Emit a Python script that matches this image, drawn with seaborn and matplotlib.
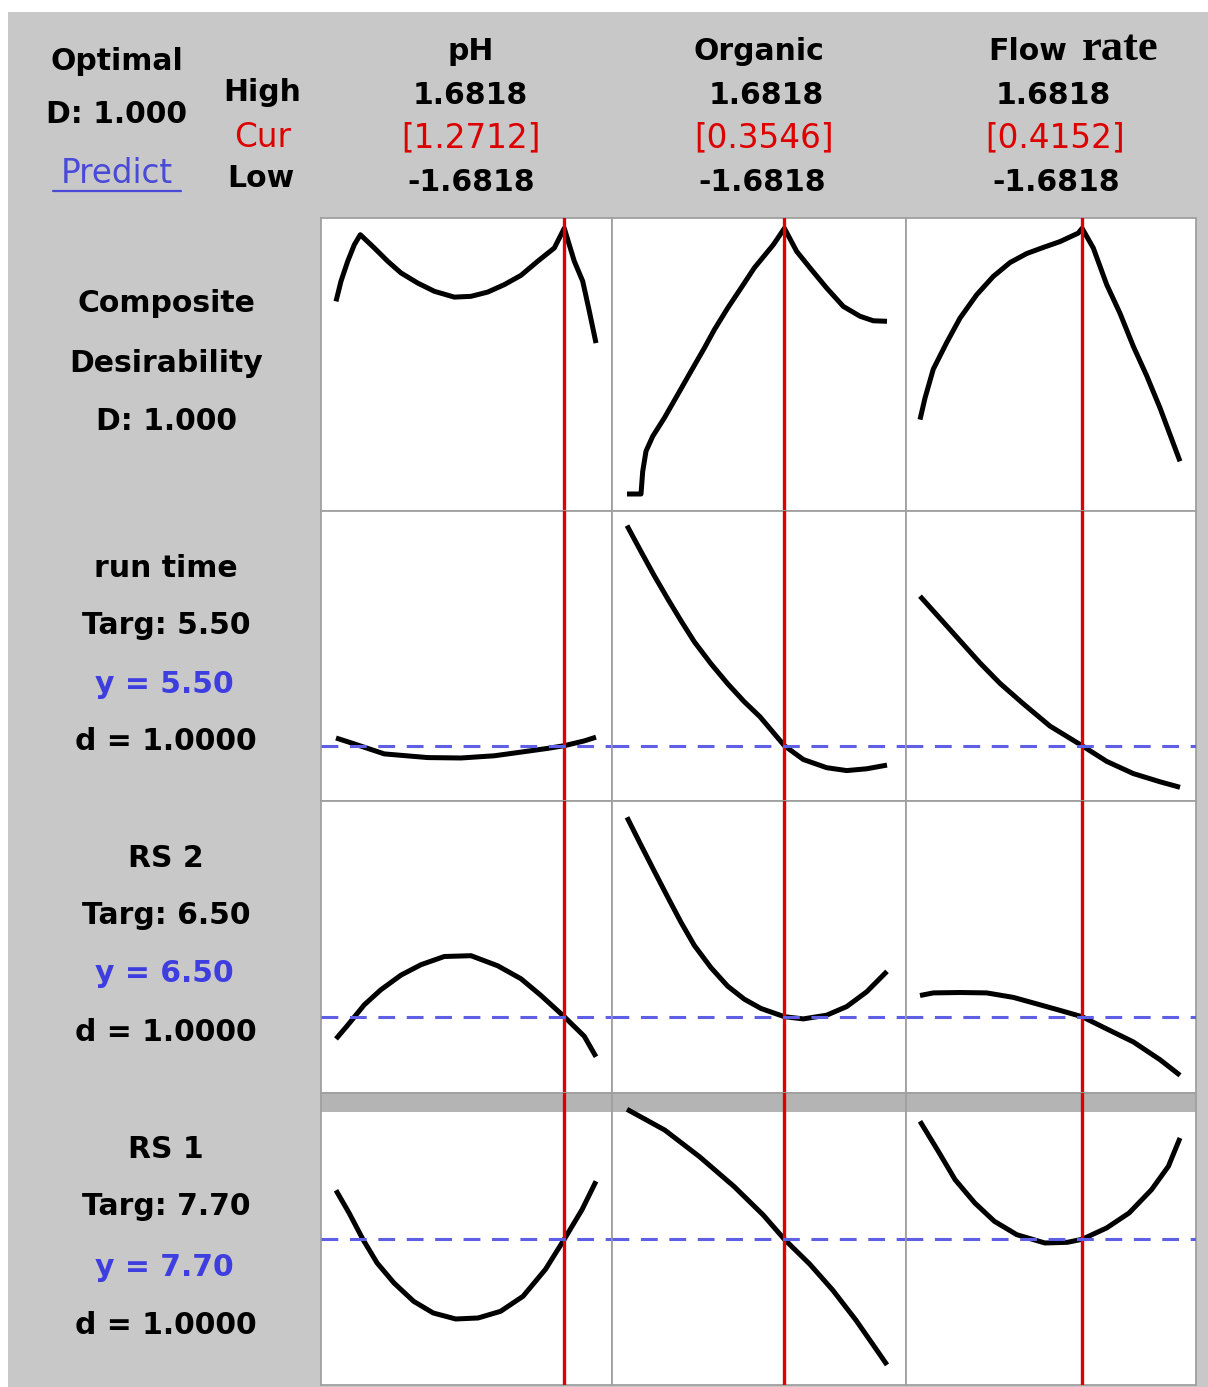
import numpy as np
import pandas as pd
import matplotlib
matplotlib.use("Agg")
import matplotlib.pyplot as plt
import seaborn as sns
from matplotlib.patches import Rectangle
from matplotlib.lines import Line2D

# ---------------- data ----------------
factors = ["pH", "Organic", "Flow rate"]
high = [1.6818, 1.6818, 1.6818]
low = [-1.6818, -1.6818, -1.6818]
cur = [1.2712, 0.3546, 0.4152]

resp_names = ["run time", "RS 2", "RS 1"]
targets = [5.50, 6.50, 7.70]
y_pred = [5.50, 6.50, 7.70]
d_vals = [1.0000, 1.0000, 1.0000]
D_comp = 1.000

# Composite desirability curves
d_ph_x = [-1.6818, -1.6171, -1.5304, -1.4451, -1.3674, -1.1863, -1.0130, -0.8409, -0.6249, -0.4101,
          -0.1514, 0.0647, 0.2807, 0.4955, 0.7115, 0.9275, 1.1424, 1.2712, 1.4011, 1.5098, 1.5952, 1.6818]
d_ph_y = [0.725, 0.801, 0.876, 0.938, 0.976, 0.926, 0.876, 0.832, 0.794, 0.763,
          0.741, 0.744, 0.760, 0.788, 0.823, 0.876, 0.926, 1.000, 0.876, 0.801, 0.688, 0.568]
d_org_x = [-1.6818, -1.5007, -1.4787, -1.4360, -1.3493, -1.1992, -1.0259, -0.8538, -0.6818, -0.5524, -0.3790,
           -0.2070, -0.0349, 0.2109, 0.3546, 0.5136, 0.6857, 0.9017, 1.1165, 1.3326, 1.5046, 1.6818]
d_org_y = [0.000, 0.000, 0.085, 0.161, 0.217, 0.286, 0.374, 0.462, 0.549, 0.618, 0.700,
           0.775, 0.851, 0.938, 1.000, 0.913, 0.851, 0.775, 0.706, 0.669, 0.652, 0.650]
d_flow_x = [-1.6818, -1.6171, -1.5097, -1.3364, -1.1643, -0.9483, -0.7335, -0.5175, -0.3014, -0.0867,
            0.1294, 0.3661, 0.4152, 0.5601, 0.7335, 0.9055, 1.0776, 1.2509, 1.4230, 1.6818]
d_flow_y = [0.280, 0.361, 0.470, 0.570, 0.662, 0.750, 0.819, 0.871, 0.905, 0.928,
            0.950, 0.982, 1.000, 0.926, 0.788, 0.680, 0.556, 0.445, 0.324, 0.123]

# run time curves
rt_ph_x = [-1.6818, -1.4451, -1.0570, -0.4955, -0.0647, 0.3661, 0.7115, 1.0570, 1.2712, 1.5305, 1.6818]
rt_ph_y = [5.693, 5.545, 5.295, 5.203, 5.193, 5.248, 5.340, 5.433, 5.500, 5.620, 5.713]
rt_org_x = [-1.6818, -1.5007, -1.3286, -1.1553, -0.9832, -0.8111, -0.5951, -0.3790, -0.1643, 0.0388,
            0.3546, 0.5990, 0.9017, 1.1605, 1.4192, 1.6818]
rt_org_y = [11.003, 10.353, 9.748, 9.173, 8.623, 8.098, 7.548, 7.048, 6.598, 6.223,
            5.500, 5.155, 4.950, 4.878, 4.923, 5.015]
rt_flow_x = [-1.6818, -1.4231, -1.1643, -0.9056, -0.6468, -0.3454, 0.0000, 0.4152, 0.7335, 1.0777, 1.4231, 1.6818]
rt_flow_y = [9.238, 8.683, 8.125, 7.568, 7.058, 6.548, 5.990, 5.500, 5.108, 4.803, 4.598, 4.460]

# RS 2 curves
rs2_ph_x = [-1.6818, -1.5304, -1.3157, -1.1036, -0.8409, -0.5822, -0.2807, 0.0647, 0.4101, 0.7115,
            0.9702, 1.2712, 1.5305, 1.6818]
rs2_ph_y = [5.945, 6.288, 6.798, 7.170, 7.540, 7.800, 8.005, 8.025, 7.773, 7.448,
            7.030, 6.500, 6.010, 5.498]
rs2_org_x = [-1.6818, -1.5007, -1.3286, -1.1553, -0.9832, -0.8111, -0.5951, -0.3790, -0.1643, 0.0518,
             0.3546, 0.5990, 0.9017, 1.1605, 1.4192, 1.6818]
rs2_org_y = [11.485, 10.788, 10.138, 9.490, 8.860, 8.283, 7.725, 7.263, 6.938, 6.705,
             6.500, 6.445, 6.538, 6.753, 7.123, 7.633]
rs2_flow_x = [-1.6818, -1.5097, -1.1643, -0.8189, -0.4748, -0.1294, 0.1294, 0.4152, 0.7335, 1.0777, 1.4231, 1.6818]
rs2_flow_y = [7.030, 7.095, 7.105, 7.095, 6.983, 6.798, 6.658, 6.500, 6.195, 5.870, 5.425, 5.035]

# RS 1 curves
rs1_ph_x = [-1.6818, -1.5123, -1.3312, -1.1501, -0.9315, -0.6779, -0.4243, -0.1332, 0.1565, 0.4476,
            0.7374, 1.0285, 1.2712, 1.5007, 1.6818]
rs1_ph_y = [8.925, 8.358, 7.690, 7.108, 6.608, 6.150, 5.858, 5.708, 5.733, 5.900,
            6.275, 6.950, 7.700, 8.440, 9.150]
rs1_org_x = [-1.6818, -1.1928, -0.7439, -0.2936, 0.0802, 0.3546, 0.6805, 0.9794, 1.2795, 1.5783, 1.6818]
rs1_org_y = [10.950, 10.430, 9.765, 9.015, 8.308, 7.700, 7.083, 6.430, 5.680, 4.850, 4.560]
rs1_flow_x = [-1.6818, -1.4451, -1.2277, -0.9729, -0.7193, -0.4295, -0.0660, 0.2251, 0.4152, 0.7322,
              1.0233, 1.3131, 1.5317, 1.6818]
rs1_flow_y = [10.650, 9.900, 9.190, 8.608, 8.150, 7.815, 7.608, 7.625, 7.700, 7.983,
              8.358, 8.940, 9.525, 10.233]

curves = [
    [(d_ph_x, d_ph_y), (d_org_x, d_org_y), (d_flow_x, d_flow_y)],
    [(rt_ph_x, rt_ph_y), (rt_org_x, rt_org_y), (rt_flow_x, rt_flow_y)],
    [(rs2_ph_x, rs2_ph_y), (rs2_org_x, rs2_org_y), (rs2_flow_x, rs2_flow_y)],
    [(rs1_ph_x, rs1_ph_y), (rs1_org_x, rs1_org_y), (rs1_flow_x, rs1_flow_y)],
]

# ---------------- layout ----------------
W, H = 1208, 1387
sns.set_theme(style="white")
plt.rcParams['font.family'] = ['DejaVu Sans']

fig = plt.figure(figsize=(W / 100, H / 100), dpi=100)
fig.patch.set_facecolor("white")

def fx(x):
    return x / W

def fy(y):
    return 1 - y / H

BG = "#c8c8c8"
BAND = "#b4b4b4"
BORDER = "#a0a0a0"
RED = "#dd0000"
BLUE = "#5f5fe6"

fig.add_artist(Rectangle((fx(8), 0), 1 - fx(8), fy(12), transform=fig.transFigure,
                         facecolor=BG, edgecolor="none", zorder=0))

col_px = [(321, 612), (612, 906), (906, 1196)]
data_px = [(336, 596), (627, 887), (920, 1180)]
row_px = [(218, 511), (511, 801), (801, 1093), (1093, 1385)]
ylims = [(-0.064, 1.0388), (4.1175, 11.3675), (4.5925, 11.8925), (4.0575, 11.3575)]
band_low = 10.8825

for r in range(4):
    for c in range(3):
        x0, x1 = col_px[c]
        y0, y1 = row_px[r]
        ax = fig.add_axes([fx(x0), fy(y1), fx(x1) - fx(x0), fy(y0) - fy(y1)])
        ax.set_facecolor("white")
        k = (high[c] - low[c]) / (data_px[c][1] - data_px[c][0])
        ax.set_xlim(low[c] - (data_px[c][0] - x0) * k, high[c] + (x1 - data_px[c][1]) * k)
        ax.set_ylim(*ylims[r])
        if r == 3:
            ax.axhspan(band_low, ylims[r][1], color=BAND, zorder=0.5, lw=0)
        xs, ys = curves[r][c]
        sns.lineplot(x=xs, y=ys, ax=ax, color="black", lw=3.6, sort=False,
                     estimator=None, legend=False, zorder=3,
                     solid_joinstyle="round", solid_capstyle="butt")
        ax.axvline(cur[c], color=RED, lw=2.4, zorder=4)
        if r > 0:
            ax.axhline(targets[r - 1], color=BLUE, lw=2.2, dashes=(5.5, 3.8), zorder=5)
        ax.set_xticks([])
        ax.set_yticks([])
        ax.set_xlabel("")
        ax.set_ylabel("")
        for s in ax.spines.values():
            s.set_color(BORDER)
            s.set_linewidth(1.3)

# ---------------- text ----------------
FS = 21.5
FSN = 23.5
DY = 3.5

def t(x, y, s, color="black", weight="bold", size=FS, family=None, ha="center"):
    kw = {}
    if family is not None:
        kw["family"] = family
    fig.text(fx(x), fy(y + DY), s, ha=ha, va="center", color=color,
             fontweight=weight, fontsize=size, **kw)

t(117, 58, "Optimal")
t(116, 111, "D: %.3f" % D_comp)
t(117, 170, "Predict", color="#4a4ad8", weight="normal", size=FSN)
fig.add_artist(Line2D([fx(53), fx(181)], [fy(191), fy(191)], transform=fig.transFigure,
                      color="#4a4ad8", lw=1.6))
t(262, 89, "High")
t(263, 134, "Cur", color=RED, weight="normal", size=FSN)
t(261, 175, "Low")

hdr_x = [(471, 470, 471, 471), (759, 766, 764, 762), (None, 1053, 1055, 1056)]
for c in range(3):
    tx, hx, cx, lx = hdr_x[c]
    if c < 2:
        t(tx, 48, factors[c])
    else:
        name_a, name_b = factors[c].split(" ")
        t(988, 48, name_a, ha="left")
        t(1082, 46, name_b, size=32, family="Liberation Serif", ha="left")
    t(hx, 92, "%.4f" % high[c])
    t(cx, 134, "[%.4f]" % cur[c], color=RED, weight="normal", size=FSN)
    t(lx, 179, "%.4f" % low[c])

LX = 166
t(LX, 300, "Composite")
t(LX, 360, "Desirability")
t(LX, 418, "D: %.3f" % D_comp)

row_text_y = [(565, 622, 681, 738), (855, 912, 970, 1029), (1146, 1203, 1264, 1322)]
for i in range(3):
    y1, y2, y3, y4 = row_text_y[i]
    t(LX, y1, resp_names[i])
    t(LX, y2, "Targ: %.2f" % targets[i])
    t(LX - 2, y3, "y = %.2f" % y_pred[i], color="#3d3de0")
    t(LX, y4, "d = %.4f" % d_vals[i])

fig.savefig("out.png", dpi=100, facecolor=fig.get_facecolor())
